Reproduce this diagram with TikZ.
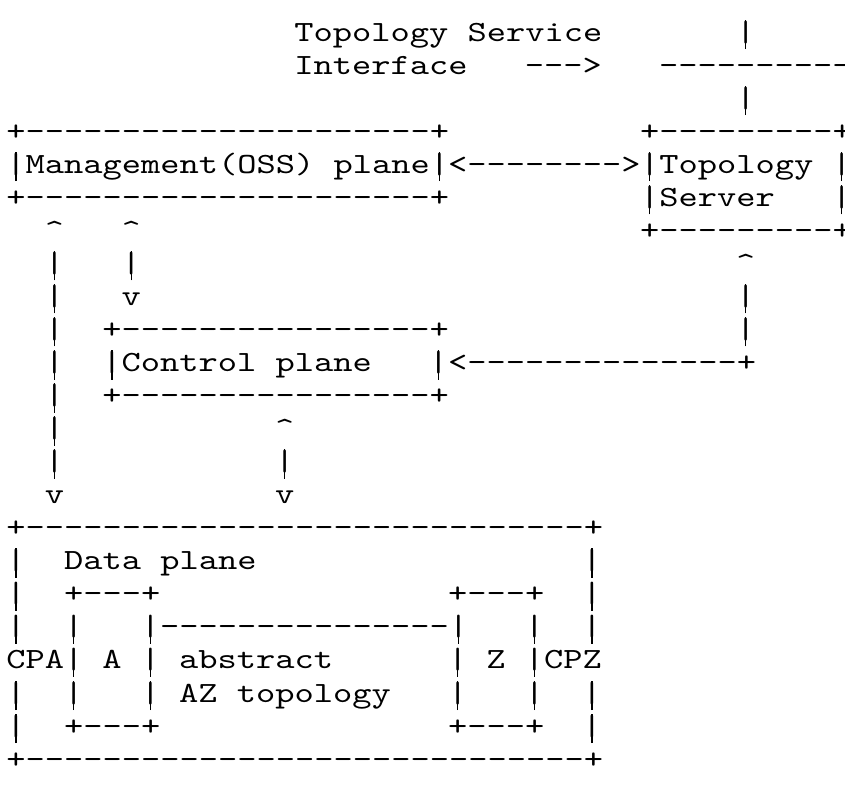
\documentclass[tikz,border=0pt]{standalone}
\usepackage{fontspec}
% Typewriter face, widened so that one cell is 19.2 units wide
\newfontfamily\asciimono{lmmono10-regular.otf}[FakeStretch=1.25]

% repeat a character n times (n >= 1)
\newcommand\chrep[2]{\foreach \k in {1,...,#1}{#2}}
% the bar glyph, lengthened by a stroke so that it spans the whole line
\newcommand\vbar{\rlap{\hspace{6.72pt}\rule[-6pt]{1pt}{22pt}}|}
% put a run of characters at a (column,row) cell of the text grid
\newcommand\asciiat[4]{\node[asciirow] (#1) at ({6.4+19.2*#2},{41+33.05*#3}) {#4};}

\tikzset{
  asciirow/.style={anchor=base west, inner sep=0pt, outer sep=0pt,
    font=\asciimono\fontsize{22pt}{22pt}\selectfont, text=black}
}

\begin{document}
\begin{tikzpicture}[x=0.75pt,y=-0.75pt]
\useasboundingbox (0,0) rectangle (845,794);
\fill[white] (0,0) rectangle (845,794);
\clip (0,0) rectangle (845,794);

% Topology service interface
\asciiat{tsi}{15}{0}{Topology~Service}
\asciiat{ifbarA}{38}{0}{\vbar}
\asciiat{tsiB}{15}{1}{Interface}
\asciiat{tsiArrow}{27}{1}{--{}-{}>}
\asciiat{ifline}{34}{1}{\chrep{11}{-}}
\asciiat{ifbarB}{38}{2}{\vbar}

% Management plane and topology server
\asciiat{mgmtTop}{0}{3}{+\chrep{21}{-}+}
\asciiat{srvTop}{33}{3}{+\chrep{9}{-}+}
\asciiat{mgmt}{0}{4}{\vbar Management(OSS)~plane\vbar}
\asciiat{mgmtSrv}{23}{4}{<\chrep{8}{-}>}
\asciiat{srvA}{33}{4}{\vbar Topology}
\asciiat{srvAr}{43}{4}{\vbar}
\asciiat{mgmtBot}{0}{5}{+\chrep{21}{-}+}
\asciiat{srvB}{33}{5}{\vbar Server}
\asciiat{srvBr}{43}{5}{\vbar}
\asciiat{srvBot}{33}{6}{+\chrep{9}{-}+}

% arrows below the management plane
\asciiat{upA}{2}{6}{\textasciicircum}
\asciiat{upB}{6}{6}{\textasciicircum}
\asciiat{vA7}{2}{7}{\vbar}
\asciiat{vB7}{6}{7}{\vbar}
\asciiat{srvUp}{38}{7}{\textasciicircum}
\asciiat{vA8}{2}{8}{\vbar}
\asciiat{downB}{6}{8}{v}
\asciiat{srvV8}{38}{8}{\vbar}

% Control plane
\asciiat{vA9}{2}{9}{\vbar}
\asciiat{ctlTop}{5}{9}{+\chrep{16}{-}+}
\asciiat{srvV9}{38}{9}{\vbar}
\asciiat{vA10}{2}{10}{\vbar}
\asciiat{ctl}{5}{10}{\vbar Control~plane}
\asciiat{ctlSrv}{22}{10}{\vbar<\chrep{14}{-}+}
\asciiat{vA11}{2}{11}{\vbar}
\asciiat{ctlBot}{5}{11}{+\chrep{16}{-}+}

% arrows down to the data plane
\asciiat{vA12}{2}{12}{\vbar}
\asciiat{upC}{14}{12}{\textasciicircum}
\asciiat{vA13}{2}{13}{\vbar}
\asciiat{vC13}{14}{13}{\vbar}
\asciiat{downA}{2}{14}{v}
\asciiat{downC}{14}{14}{v}

% Data plane
\asciiat{dataTop}{0}{15}{+\chrep{29}{-}+}
\asciiat{dL16}{0}{16}{\vbar}
\asciiat{dataLbl}{3}{16}{Data~plane}
\asciiat{dR16}{30}{16}{\vbar}

\asciiat{dL17}{0}{17}{\vbar}
\asciiat{aTop}{3}{17}{+-{}-{}-+}
\asciiat{zTop}{23}{17}{+-{}-{}-+}
\asciiat{dR17}{30}{17}{\vbar}

\asciiat{dL18}{0}{18}{\vbar}
\asciiat{aL18}{3}{18}{\vbar}
\asciiat{azLink}{7}{18}{\vbar\chrep{15}{-}\vbar}
\asciiat{zR18}{27}{18}{\vbar}
\asciiat{dR18}{30}{18}{\vbar}

\asciiat{cpa}{0}{19}{CPA\vbar}
\asciiat{aName}{5}{19}{A}
\asciiat{aR19}{7}{19}{\vbar}
\asciiat{absA}{9}{19}{abstract}
\asciiat{zL19}{23}{19}{\vbar}
\asciiat{zName}{25}{19}{Z}
\asciiat{cpz}{27}{19}{\vbar CPZ}

\asciiat{dL20}{0}{20}{\vbar}
\asciiat{aL20}{3}{20}{\vbar}
\asciiat{aR20}{7}{20}{\vbar}
\asciiat{absB}{9}{20}{AZ~topology}
\asciiat{zL20}{23}{20}{\vbar}
\asciiat{zR20}{27}{20}{\vbar}
\asciiat{dR20}{30}{20}{\vbar}

\asciiat{dL21}{0}{21}{\vbar}
\asciiat{aBot}{3}{21}{+-{}-{}-+}
\asciiat{zBot}{23}{21}{+-{}-{}-+}
\asciiat{dR21}{30}{21}{\vbar}
\asciiat{dataBot}{0}{22}{+\chrep{29}{-}+}
\end{tikzpicture}
\end{document}
